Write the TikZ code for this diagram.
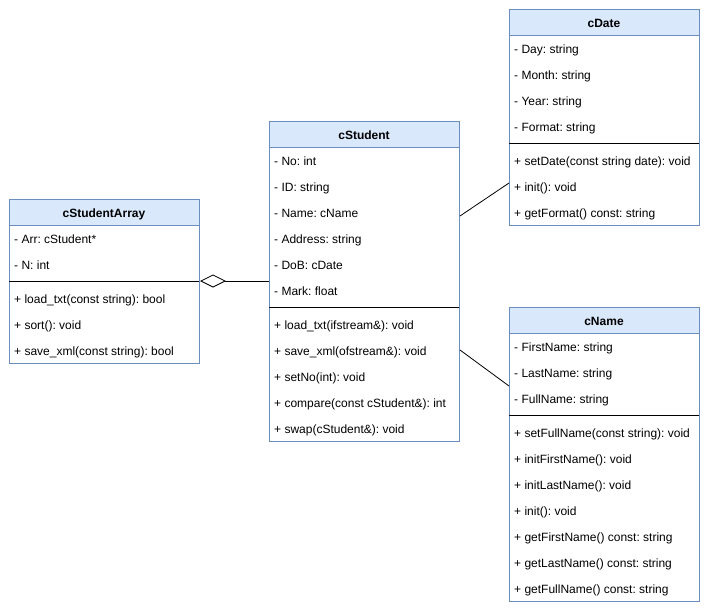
\documentclass[tikz,border=0pt]{standalone}
\usepackage{fontspec}
\setmainfont{Liberation Sans}
\usetikzlibrary{arrows.meta}
\definecolor{hdrfill}{HTML}{DAE8FC}
\definecolor{hdrline}{HTML}{6C8EBF}
\frenchspacing
\tikzset{
  classbox/.style={draw=hdrline, line width=1pt, fill=white, anchor=north west, minimum width=190pt, inner sep=0pt},
  classhdr/.style={draw=hdrline, line width=1pt, fill=hdrfill, anchor=north west, minimum width=190pt, minimum height=26pt, inner sep=0pt},
  title/.style={anchor=base, inner sep=0pt, font=\fontsize{12pt}{14pt}\selectfont\bfseries},
  row/.style={anchor=base west, inner sep=0pt, font=\fontsize{12pt}{14pt}\selectfont\frenchspacing},
  sepline/.style={draw=black, line width=1pt},
  conn/.style={draw=black, line width=0.8pt},
}
\begin{document}
\begin{tikzpicture}[x=1pt,y=-1pt]
\useasboundingbox (0,0) rectangle (710,614);

% ---------- cStudentArray ----------
\node[classbox, minimum height=164pt] (sa) at (9,199) {};
\node[classhdr] (sah) at (9,199) {};
\node[title] (sat) at (104,217) {cStudentArray};
\foreach \t [count=\i from 0] in {- Arr: cStudent*, - N: int}
  \node[row] (saa\i) at (14,243+26*\i) {\t};
\draw[sepline] (9,281) -- (199,281);
\foreach \t [count=\i from 0] in {+ load\_txt(const string): bool, + sort(): void, + save\_xml(const string): bool}
  \node[row] (sam\i) at (14,303+26*\i) {\t};

% ---------- cStudent ----------
\node[classbox, minimum height=320pt] (st) at (269,121) {};
\node[classhdr] (sth) at (269,121) {};
\node[title] (stt) at (364,139) {cStudent};
\foreach \t [count=\i from 0] in {- No: int, - ID: string, - Name: cName, - Address: string, - DoB: cDate, - Mark: float}
  \node[row] (sta\i) at (274,165+26*\i) {\t};
\draw[sepline] (269,307) -- (459,307);
\foreach \t [count=\i from 0] in {+ load\_txt(ifstream\&): void, + save\_xml(ofstream\&): void, + setNo(int): void, + compare(const cStudent\&): int, + swap(cStudent\&): void}
  \node[row] (stm\i) at (274,329+26*\i) {\t};

% ---------- cDate ----------
\node[classbox, minimum height=216pt] (dt) at (509,9) {};
\node[classhdr] (dth) at (509,9) {};
\node[title] (dtt) at (604,27) {cDate};
\foreach \t [count=\i from 0] in {- Day: string, - Month: string, - Year: string, - Format: string}
  \node[row] (dta\i) at (514,53+26*\i) {\t};
\draw[sepline] (509,143) -- (699,143);
\foreach \t [count=\i from 0] in {+ setDate(const string date): void, + init(): void, + getFormat() const: string}
  \node[row] (dtm\i) at (514,165+26*\i) {\t};

% ---------- cName ----------
\node[classbox, minimum height=294pt] (nm) at (509,307) {};
\node[classhdr] (nmh) at (509,307) {};
\node[title] (nmt) at (604,325) {cName};
\foreach \t [count=\i from 0] in {- FirstName: string, - LastName: string, - FullName: string}
  \node[row] (nma\i) at (514,351+26*\i) {\t};
\draw[sepline] (509,415) -- (699,415);
\foreach \t [count=\i from 0] in {+ setFullName(const string): void, + initFirstName(): void, + initLastName(): void, + init(): void, + getFirstName() const: string, + getLastName() const: string, + getFullName() const: string}
  \node[row] (nmm\i) at (514,437+26*\i) {\t};

% ---------- connectors ----------
\draw[conn, {Diamond[open, length=26pt, width=13pt, line width=0.8pt]}-]
  ([yshift=-82pt]sa.north east) -- ([yshift=-160pt]st.north west);
\draw[conn] ([yshift=-95pt]st.north east) -- ([yshift=-174pt]dt.north west);
\draw[conn] ([yshift=-229pt]st.north east) -- ([yshift=-79pt]nm.north west);
\end{tikzpicture}
\end{document}
